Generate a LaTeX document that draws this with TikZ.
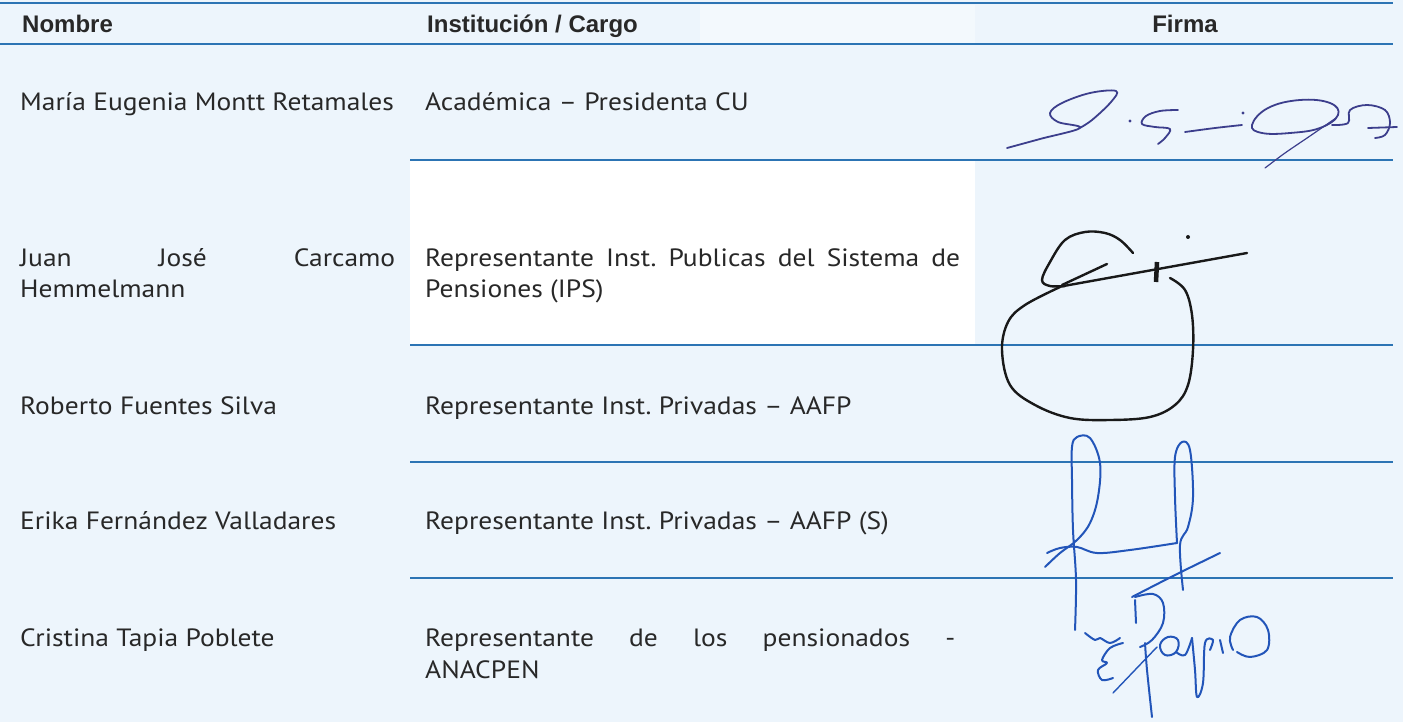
\documentclass[tikz,border=0pt]{standalone}
\usepackage{fontspec}
\setmainfont{PT Sans}[FakeStretch=1.1]
\newfontfamily\hdfont{Liberation Sans}
\definecolor{bgblue}{RGB}{237,245,252}
\definecolor{rule}{RGB}{44,116,180}
\definecolor{txt}{RGB}{40,40,40}
\definecolor{inkA}{RGB}{60,62,140}
\definecolor{inkB}{RGB}{25,25,25}
\definecolor{inkC}{RGB}{34,85,185}
\frenchspacing
\tikzset{
  hdr/.style={anchor=base west,inner sep=0pt,text=txt,font=\hdfont\bfseries\fontsize{24}{28}\selectfont},
  cell/.style={anchor=base west,inner sep=0pt,text=txt,font=\fontsize{25}{29}\selectfont},
  rowrule/.style={draw=rule,line width=2.6pt},
  sigA/.style={draw=inkA,line width=1.8pt,line cap=round,line join=round},
  sigB/.style={draw=inkB,line width=2.4pt,line cap=round,line join=round},
  sigC/.style={draw=inkC,line width=2pt,line cap=round,line join=round},
}
\begin{document}
\begin{tikzpicture}[x=1pt,y=-1pt]
\useasboundingbox (0,0) rectangle (1403,722);
\fill[bgblue] (0,0) rectangle (1403,722);
\fill[white] (410,160) rectangle (975,345);
\fill[white!35!bgblue] (700,5) rectangle (975,44);
% rules
\coordinate (t0l) at (0,3);   \coordinate (t0r) at (1393,3);
\coordinate (t1l) at (0,44);  \coordinate (t1r) at (1393,44);
\coordinate (r1l) at (410,160); \coordinate (r1r) at (1393,160);
\coordinate (r2l) at (410,345); \coordinate (r2r) at (1393,345);
\coordinate (r3l) at (410,462); \coordinate (r3r) at (1393,462);
\coordinate (r4l) at (410,578); \coordinate (r4r) at (1393,578);
\draw[rowrule] (t0l) -- (t0r);
\draw[rowrule] (t1l) -- (t1r);
\draw[rowrule] (r1l) -- (r1r);
\draw[rowrule] (r2l) -- (r2r);
\draw[rowrule] (r3l) -- (r3r);
\draw[rowrule] (r4l) -- (r4r);
% header
\node[hdr] (hN) at (22,33) {Nombre};
\node[hdr] (hI) at (427,33) {Institución / Cargo};
\node[hdr,anchor=base] (hF) at (1185,33) {Firma};
% row 1
\node[cell] (n1) at (20,111) {María Eugenia Montt Retamales};
\node[cell] (c1) at (425,111) {Académica – Presidenta CU};
% row 2
\node[cell] (n2a) at (20,266) {\makebox[375pt][s]{Juan\hfill José\hfill Carcamo}};
\node[cell] (n2b) at (20,298) {Hemmelmann};
\node[cell] (c2a) at (425,266) {\makebox[535pt][s]{Representante Inst. Publicas del Sistema de}};
\node[cell] (c2b) at (425,298) {Pensiones (IPS)};
% row 3
\node[cell] (n3) at (20,414) {Roberto Fuentes Silva};
\node[cell] (c3) at (425,414) {Representante Inst. Privadas – AAFP};
% row 4
\node[cell] (n4) at (20,529) {Erika Fernández Valladares};
\node[cell] (c4) at (425,529) {Representante Inst. Privadas – AAFP (S)};
% row 5
\node[cell] (n5) at (20,646) {Cristina Tapia Poblete};
\node[cell] (c5a) at (425,646) {\makebox[530pt][s]{Representante\hfill de\hfill los\hfill pensionados\hfill -}};
\node[cell] (c5b) at (425,678) {ANACPEN};
% signature 1
\draw[sigA] plot[smooth,tension=0.6] coordinates {(1007,148) (1040,139) (1080,128) (1058,122) (1050,113) (1062,103) (1090,93) (1116,91) (1111,102) (1092,120) (1078,129)};
\fill[inkA] (1130,121) circle (1.6);
\draw[sigA] plot[smooth,tension=0.6] coordinates {(1178,110) (1160,111) (1146,116) (1142,124) (1155,127) (1170,129) (1165,138) (1158,144)};
\draw[sigA] plot[smooth] coordinates {(1185,132) (1215,128) (1242,125)};
\fill[inkA] (1243,113) circle (1.6);
\draw[sigA] plot[smooth cycle,tension=0.7] coordinates {(1252,125) (1268,108) (1300,100) (1330,103) (1338,115) (1320,128) (1290,133) (1262,133)};
\draw[sigA,line width=1.2pt] plot[smooth] coordinates {(1336,118) (1310,136) (1285,153) (1265,168)};
\draw[sigA] plot[smooth,tension=0.6] coordinates {(1332,125) (1348,123) (1350,110) (1367,105) (1385,110) (1390,123) (1385,135) (1375,138)};
\draw[sigA] (1368,128) -- (1397,127);
% signature 2
\draw[sigB] plot[smooth,tension=0.6] coordinates {(1133,253) (1120,240) (1105,233) (1085,232) (1065,240) (1050,262) (1042,280) (1050,286) (1065,286)};
\draw[sigB] (1058,287) -- (1247,253);
\draw[sigB] (1062,285) -- (1107,264);
\draw[sigB] plot[smooth,tension=0.6] coordinates {(1170,278) (1185,290) (1192,315) (1193,350) (1188,385) (1175,405) (1150,417) (1110,420) (1070,418) (1035,405) (1010,385) (1002,350) (1008,322) (1025,305) (1060,287)};
\draw[inkB,line width=4.5pt] (1157,262) -- (1156,282);
\fill[inkB] (1188,237) circle (2);
% signature 3
\draw[sigC] plot[smooth,tension=0.6] coordinates {(1075,630) (1076,580) (1073,530) (1072,480) (1072,447) (1077,437) (1090,438) (1100,463) (1098,497) (1090,523) (1077,540) (1060,553) (1045,567)};
\draw[sigC] plot[smooth,tension=0.6] coordinates {(1047,553) (1060,548) (1077,547) (1097,553) (1130,550) (1177,543)};
\draw[sigC] plot[smooth,tension=0.6] coordinates {(1177,543) (1175,497) (1175,457) (1182,442) (1190,450) (1193,497) (1188,527) (1180,545) (1183,590)};
\draw[sigC] plot[smooth] coordinates {(1132,597) (1175,575) (1220,553)};
% signature 4
\draw[sigC] plot[smooth,tension=0.6] coordinates {(1135,597) (1153,594) (1163,603) (1163,623) (1152,640) (1140,647)};
\draw[sigC] (1135,600) -- (1136,623);
\draw[sigC] plot[smooth,tension=0.6] coordinates {(1085,633) (1095,640) (1100,638) (1110,643) (1120,638)};
\draw[sigC] plot[smooth,tension=0.6] coordinates {(1123,643) (1110,648) (1102,660) (1107,663) (1098,670) (1102,680) (1113,678)};
\draw[sigC,line width=1.4pt] plot[smooth] coordinates {(1157,647) (1135,670) (1113,693)};
\draw[sigC] plot[smooth,tension=0.6] coordinates {(1145,643) (1147,670) (1152,717)};
\draw[sigC] plot[smooth cycle,tension=0.7] coordinates {(1178,640) (1168,637) (1160,645) (1165,655) (1176,652)};
\draw[sigC] plot[smooth,tension=0.6] coordinates {(1176,652) (1185,655) (1192,638)};
\draw[sigC] plot[smooth,tension=0.6] coordinates {(1192,638) (1195,670) (1197,697) (1203,683) (1205,643) (1213,640) (1210,650)};
\draw[sigC] plot[smooth] coordinates {(1220,640) (1223,653)};
\draw[sigC] plot[smooth,tension=0.6] coordinates {(1233,650) (1230,637) (1240,620) (1257,617) (1268,630) (1267,650) (1250,657) (1237,652)};
\end{tikzpicture}
\end{document}
